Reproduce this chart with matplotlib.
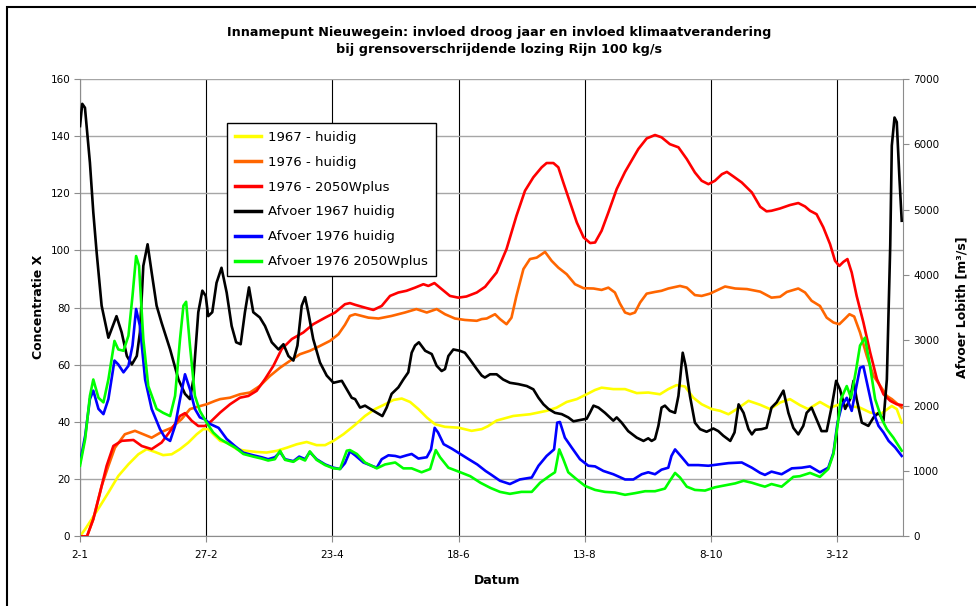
import matplotlib
matplotlib.use("Agg")
import matplotlib.pyplot as plt
from matplotlib.patches import Rectangle

plt.rcParams['font.family'] = ['DejaVu Sans']

# dagen vanaf 2 januari, x-as labels om de 56 dagen
tick_days = [0, 56, 112, 168, 224, 280, 336]
tick_labels = ['2-1', '27-2', '23-4', '18-6', '13-8', '8-10', '3-12']

# concentratie X (linker as)
geel_d = [0, 2.3, 5.2, 8.9, 12.6, 17.0, 21.5, 25.9, 29.6, 33.3, 36.9, 40.7, 44.4, 48.1, 51.8, 54.7,
          56.9, 59.9, 62.2, 65.1, 69.5, 73.9, 78.4, 82.8, 87.3, 91.8, 96.2, 100.6, 105.0, 108.8,
          112.5, 116.9, 122.1, 126.5, 130.9, 135.4, 139.1, 142.8, 146.5, 150.2, 154.0, 157.6,
          162.0, 168.0, 173.8, 178.3, 181.0, 184.9, 192.3, 199.7, 207.1, 211.5, 216.0, 220.5,
          224.9, 228.6, 231.5, 236.7, 241.9, 247.1, 252.2, 257.4, 261.1, 264.8, 268.5, 272.2,
          275.9, 280.4, 284.1, 287.8, 291.5, 296.7, 301.9, 306.3, 310.7, 315.1, 319.5, 323.2,
          328.4, 332.9, 337.3, 341.8, 346.2, 350.7, 355.2, 360.3, 362.5, 364.7]
geel_v = [0, 2.5, 6, 10.6, 15.3, 21.1, 25.2, 28.7, 30.5, 29.5, 28.4, 28.7, 30.5, 32.8, 35.7, 37.5,
          37.5, 35.1, 33.4, 32.8, 30.5, 29.9, 29.5, 29.3, 29.9, 31, 32.2, 33, 31.9, 31.9,
          33.4, 35.7, 39, 42.1, 44.5, 46.2, 47.7, 48.2, 47, 44.5, 41.5, 39.2,
          38.3, 38, 36.9, 37.5, 38.5, 40.5, 42.1, 42.7, 43.9, 45, 47, 48,
          49.7, 51.2, 52, 51.5, 51.5, 50.1, 50.3, 49.7, 51.5, 52.9, 52.4, 48.5,
          46.2, 44.5, 43.9, 42.7, 44.5, 47.4, 46, 44.5, 46.8, 48, 45.9, 44.5,
          47, 45, 46.2, 45.6, 45, 43.3, 42.7, 45.6, 44.5, 39.8]

oranje_d = [0, 3.1, 5.9, 9.6, 12.6, 15.5, 19.9, 24.4, 28.1, 31.8, 36.2, 40.7, 45.1, 48.8, 52.5, 56.2,
            60.0, 62.2, 66.6, 71.0, 75.4, 79.8, 84.3, 88.8, 93.2, 97.6, 102.0, 106.5, 111.0, 114.7,
            117.6, 119.8, 122.1, 128.0, 132.5, 138.3, 144.2, 149.3, 153.9, 158.3, 162.0, 166.4,
            170.8, 176.1, 178.3, 180.5, 184.2, 186.4, 189.3, 191.5, 193.7, 196.8, 199.7, 202.7,
            206.4, 209.3, 212.3, 216.0, 219.7, 223.5, 227.9, 231.5, 234.5, 237.4, 239.6, 241.9,
            244.1, 246.3, 248.6, 251.5, 255.2, 258.1, 261.1, 266.3, 269.3, 272.9, 275.9, 279.6,
            286.3, 290.8, 296.0, 301.9, 306.9, 310.7, 313.7, 318.8, 321.8, 324.7, 328.4, 331.4,
            334.4, 337.0, 339.6, 341.5, 343.6, 346.2, 349.2, 352.2, 355.2, 358.1, 360.3, 363.3,
            364.7]
oranje_v = [0, 0, 6, 17.6, 24.6, 31, 35.7, 36.9, 35.7, 34.5, 36.5, 38, 41, 44.5, 45.4, 46.2,
            47.4, 48, 48.5, 49.7, 50.3, 52.6, 56.1, 59, 61.4, 63.7, 64.9, 66.6, 68.4, 70.7,
            74, 77.1, 77.7, 76.5, 76.2, 77.1, 78.3, 79.5, 78.3, 79.5, 77.7, 76.2,
            75.7, 75.4, 76, 76.2, 77.7, 76, 74.2, 76.5, 84.1, 93.5, 97, 97.5,
            99.5, 96.4, 94, 91.7, 88.2, 86.8, 86.7, 86.2, 87, 85.3, 81.5, 78.3,
            77.7, 78.3, 81.8, 84.9, 85.5, 85.9, 86.7, 87.6, 87, 84.4, 84.1, 84.9,
            87.4, 86.7, 86.5, 85.6, 83.5, 83.8, 85.5, 86.7, 85.3, 82.4, 80.6, 76.5,
            74.8, 74.2, 76.2, 77.7, 76.9, 71.3, 63.1, 56.1, 52.6, 49.1, 48, 46,
            45]

rood_d = [0, 3.1, 5.9, 8.9, 11.8, 14.8, 18.5, 23.7, 27.4, 31.8, 36.2, 40.7, 44.4, 46.6, 49.6, 52.5,
          55.5, 58.4, 62.2, 66.6, 71.0, 74.7, 78.4, 82.1, 85.8, 89.5, 94.0, 99.1, 103.5, 108.8,
          113.2, 117.6, 119.8, 122.1, 126.5, 130.2, 133.9, 137.6, 141.3, 144.9, 148.7, 152.4,
          154.6, 157.3, 160.5, 164.2, 167.9, 171.5, 176.1, 179.8, 184.9, 189.3, 193.7, 197.5,
          201.2, 204.9, 207.1, 210.1, 212.3, 214.5, 217.5, 220.5, 223.5, 226.4, 228.6, 231.5,
          234.5, 238.2, 241.9, 247.8, 251.5, 255.2, 258.1, 261.8, 265.6, 269.3, 272.9, 275.9,
          278.9, 281.8, 284.9, 287.1, 290.0, 293.7, 298.2, 301.9, 304.7, 306.9, 310.7, 315.1,
          318.8, 321.8, 324.0, 326.9, 329.9, 332.9, 335.1, 337.0, 338.8, 340.6, 342.5, 344.7,
          347.7, 350.7, 353.7, 356.6, 359.6, 362.5, 364.7]
rood_v = [0, 0, 6, 15.3, 24.6, 31.6, 33.4, 33.7, 31.6, 30.5, 32.8, 37.5, 42.1, 43.1, 40.4, 38.6,
          38.6, 40.4, 43.3, 46.2, 48.5, 49.1, 50.9, 55, 59.6, 65.5, 69, 71.3, 74.2, 76.5,
          78.3, 81.2, 81.6, 81, 80, 79.2, 80.6, 84.1, 85.3, 85.9, 87, 88.2,
          87.6, 88.6, 86.5, 84.1, 83.5, 83.9, 85.3, 87.3, 92.3, 100.5, 112.1, 120.9,
          125.6, 129.1, 130.6, 130.6, 129.1, 123.8, 116.8, 109.8, 104.6, 102.6, 102.8, 106.9,
          113.3, 121.5, 127.5, 135.5, 139.2, 140.4, 139.6, 137.2, 136.1, 132, 127.3, 124.4,
          123.2, 124.4, 126.7, 127.5, 125.9, 123.8, 120.3, 115.3, 113.7, 113.9, 114.7, 115.9,
          116.6, 115.4, 113.9, 112.7, 108.1, 102.2, 96.4, 94.6, 96, 97, 92.3, 84.1,
          74.8, 64.3, 55, 49.7, 47.4, 46.2, 45.9]

# afvoer Lobith in m3/s (rechter as)
zwart_d = [0, 1.0, 2.2, 4.4, 5.9, 7.4, 9.6, 12.6, 16.2, 18.5, 20.8, 23.0, 25.2, 26.6, 28.1, 30.0,
           31.8, 34.0, 36.2, 40.0, 43.7, 46.6, 48.8, 50.3, 52.5, 54.3, 55.8, 56.9, 58.7, 60.6,
           62.8, 65.1, 67.3, 69.3, 71.3, 73.2, 75.0, 76.9, 79.8, 82.1, 85.1, 88.1, 90.3, 92.5,
           94.7, 96.5, 98.4, 99.9, 101.3, 103.5, 106.5, 109.5, 112.5, 116.2, 118.4, 120.6,
           122.1, 124.3, 126.5, 128.8, 131.7, 134.2, 136.1, 138.3, 141.3, 143.5, 145.7, 147.2,
           148.7, 150.4, 153.2, 156.1, 158.3, 160.5, 162.0, 163.5, 165.7, 168.6, 170.8, 173.0,
           176.1, 178.3, 179.7, 182.0, 184.9, 187.8, 190.8, 194.5, 198.3, 201.2, 203.5, 205.7,
           207.9, 210.8, 213.8, 216.7, 219.0, 221.9, 224.9, 226.3, 227.9, 230.1, 233.0, 235.2,
           236.7, 238.2, 240.4, 243.3, 247.1, 250.1, 252.2, 253.7, 255.2, 256.7, 258.1, 259.6,
           261.8, 264.1, 265.6, 267.5, 268.8, 270.7, 272.9, 275.2, 278.1, 281.1, 283.3, 285.5,
           288.6, 290.5, 292.3, 294.5, 296.7, 298.2, 299.7, 302.5, 304.7, 306.9, 309.2, 312.2,
           314.4, 316.6, 318.8, 321.0, 322.5, 324.7, 326.9, 329.1, 331.4, 333.7, 335.6, 337.3,
           339.6, 341.8, 343.3, 344.7, 347.0, 349.9, 352.2, 354.4, 356.6, 358.1, 359.6, 360.3,
           361.5, 362.5, 363.7, 364.7]
zwart_v = [6280, 6620, 6560, 5720, 4960, 4340, 3530, 3040, 3370, 3120, 2760, 2630, 2760, 3120, 4140, 4470,
           4040, 3530, 3270, 2860, 2400, 2180, 2100, 2400, 3430, 3760, 3680, 3370, 3430, 3880,
           4110, 3730, 3220, 2970, 2940, 3430, 3810, 3430, 3350, 3220, 2970, 2860, 2940, 2760,
           2690, 2920, 3530, 3660, 3430, 3020, 2660, 2460, 2350, 2380, 2250, 2120,
           2100, 1970, 2000, 1950, 1890, 1840, 1970, 2180, 2280, 2400, 2510, 2810,
           2920, 2970, 2840, 2790, 2610, 2530, 2560, 2760, 2860, 2840, 2810, 2710,
           2560, 2460, 2430, 2480, 2480, 2400, 2350, 2330, 2300, 2250, 2120, 2020,
           1950, 1890, 1870, 1820, 1760, 1780, 1800, 1890, 2000, 1970, 1890, 1820,
           1770, 1820, 1740, 1610, 1510, 1460, 1500, 1460, 1490, 1690, 1970, 2000,
           1920, 1890, 2150, 2810, 2610, 2150, 1740, 1640, 1600, 1650, 1610, 1540,
           1460, 1590, 2020, 1890, 1640, 1560, 1630, 1640, 1660, 1970, 2050, 2230,
           1890, 1660, 1560, 1690, 1890, 1970, 1790, 1610, 1610, 2000, 2380, 2250,
           1950, 2100, 2380, 2100, 1740, 1690, 1820, 1890, 1770, 2400, 4450, 5980,
           6410, 6340, 5470, 4830]

blauw_d = [0, 2.3, 4.4, 5.9, 8.2, 10.4, 12.6, 15.3, 17.0, 19.3, 21.5, 23.3, 24.9, 26.6, 28.9, 31.8,
           35.5, 37.7, 40.0, 42.2, 44.4, 46.6, 48.8, 51.0, 53.2, 55.5, 57.7, 61.5, 65.1, 68.8,
           72.5, 76.9, 80.6, 83.5, 86.5, 88.8, 91.0, 94.7, 97.3, 99.9, 102.0, 105.0, 108.8,
           112.5, 115.4, 117.6, 119.8, 122.1, 125.8, 129.4, 131.7, 133.9, 136.9, 139.9, 142.1,
           145.0, 147.2, 150.2, 153.9, 155.8, 157.4, 158.9, 161.4, 165.1, 168.8, 172.5, 176.3,
           180.0, 182.2, 186.4, 190.8, 195.2, 200.5, 203.5, 207.1, 210.4, 211.8, 213.0, 215.2,
           218.2, 221.9, 225.6, 228.6, 232.3, 236.7, 241.9, 245.6, 249.3, 252.2, 255.2, 258.1,
           261.1, 262.5, 264.1, 267.1, 270.0, 274.4, 278.9, 283.3, 287.8, 293.7, 298.2, 301.9,
           304.0, 306.9, 311.4, 315.9, 320.3, 324.0, 328.4, 332.1, 334.4, 336.2, 338.1, 340.3,
           342.5, 344.5, 346.2, 347.7, 349.9, 352.2, 354.4, 356.6, 358.9, 361.8, 364.7]
blauw_v = [1130, 1540, 2100, 2230, 1950, 1870, 2100, 2690, 2630, 2510, 2610, 2920, 3480, 3220, 2400, 1950,
           1640, 1510, 1460, 1690, 2100, 2480, 2250, 1950, 1820, 1790, 1720, 1660, 1490, 1380,
           1280, 1240, 1210, 1180, 1210, 1290, 1180, 1150, 1220, 1180, 1290, 1180, 1100,
           1050, 1030, 1120, 1300, 1240, 1130, 1080, 1050, 1180, 1240, 1230, 1210,
           1240, 1260, 1190, 1210, 1330, 1660, 1590, 1410, 1340, 1260, 1180, 1100,
           1000, 950, 850, 800, 870, 900, 1080, 1230, 1330, 1740, 1750, 1510,
           1360, 1180, 1080, 1070, 1000, 950, 870, 870, 950, 980, 950, 1020,
           1050, 1230, 1330, 1210, 1090, 1090, 1080, 1100, 1120, 1130, 1050, 970,
           940, 990, 950, 1040, 1050, 1070, 980, 1050, 1280, 1740, 2000, 2120,
           1920, 2280, 2580, 2600, 2250, 1890, 1690, 1590, 1460, 1360, 1230]

groen_d = [0, 2.3, 4.4, 5.9, 8.2, 10.4, 12.6, 15.3, 17.0, 19.3, 21.5, 23.3, 24.9, 26.2, 28.1, 30.3,
           34.0, 36.9, 40.0, 42.2, 44.4, 45.9, 47.1, 48.8, 51.0, 53.2, 56.2, 59.1, 62.2, 65.1,
           68.8, 72.5, 76.9, 80.6, 83.5, 86.5, 88.8, 91.0, 94.7, 97.3, 99.9, 102.0, 105.0,
           108.8, 112.5, 115.4, 118.4, 119.8, 122.9, 126.5, 131.7, 135.4, 139.9, 143.5, 147.2,
           151.6, 155.4, 157.9, 159.8, 163.5, 168.8, 173.2, 177.7, 182.2, 186.4, 190.8, 195.9,
           200.5, 204.2, 208.6, 210.8, 212.7, 214.5, 216.7, 220.5, 224.2, 228.6, 233.0, 237.4,
           241.9, 246.3, 250.8, 255.2, 259.6, 261.8, 264.1, 266.3, 269.3, 272.9, 277.4, 281.8,
           286.3, 290.8, 294.5, 298.2, 301.9, 304.0, 306.9, 311.4, 316.6, 319.5, 324.0, 328.4,
           332.1, 334.4, 336.2, 337.7, 340.3, 342.2, 344.5, 346.2, 348.4, 350.6, 352.9, 355.9,
           358.1, 361.0, 364.7]
groen_v = [1080, 1490, 2150, 2400, 2120, 2050, 2400, 2990, 2860, 2840, 3070, 3680, 4290, 4140, 3020, 2300,
           1950, 1890, 1840, 2150, 3020, 3530, 3590, 2920, 2150, 1920, 1740, 1590, 1490, 1430,
           1360, 1260, 1220, 1190, 1160, 1180, 1310, 1170, 1140, 1200, 1160, 1300, 1170,
           1090, 1040, 1030, 1310, 1320, 1260, 1130, 1040, 1100, 1130, 1040, 1040,
           980, 1030, 1320, 1210, 1050, 980, 920, 820, 740, 680, 650, 680,
           680, 820, 930, 980, 1330, 1180, 980, 870, 770, 710, 680, 670,
           635, 660, 690, 690, 730, 850, 970, 900, 760, 710, 700, 750,
           780, 810, 850, 820, 780, 760, 800, 760, 910, 920, 970, 910,
           1030, 1260, 1690, 2100, 2300, 2120, 2560, 2920, 3040, 2610, 2100, 1790,
           1640, 1510, 1310]

fig = plt.figure(figsize=(9.76, 6.06), dpi=100)
ax = fig.add_axes([80 / 976, 1 - 536.3 / 606, (903.3 - 80) / 976, (536.3 - 79) / 606])
ax2 = ax.twinx()

l1, = ax.plot(geel_d, geel_v, color='#ffff00', lw=1.9, label='1967 - huidig')
l2, = ax.plot(oranje_d, oranje_v, color='#ff6600', lw=1.9, label='1976 - huidig')
l3, = ax.plot(rood_d, rood_v, color='#ff0000', lw=1.9, label='1976 - 2050Wplus')
l4, = ax2.plot(zwart_d, zwart_v, color='black', lw=1.9, label='Afvoer 1967 huidig')
l5, = ax2.plot(blauw_d, blauw_v, color='#0000ff', lw=1.9, label='Afvoer 1976 huidig')
l6, = ax2.plot(groen_d, groen_v, color='#00ff00', lw=1.9, label='Afvoer 1976 2050Wplus')

ax.set_xlim(0, 365.4)
ax.set_ylim(0, 160)
ax2.set_ylim(0, 7000)
ax.set_yticks(range(0, 161, 20))
ax2.set_yticks(range(0, 7001, 1000))
ax.set_xticks(tick_days)
ax.set_xticklabels(tick_labels)

ax.set_axisbelow(True)
ax.grid(axis='y', color='#a6a6a6', lw=1.0)
ax.grid(axis='x', color='black', lw=0.8)

for a in (ax, ax2):
    a.spines['top'].set_visible(False)
    for s in ('left', 'right', 'bottom'):
        a.spines[s].set_color('#8c8c8c')
ax.spines['right'].set_visible(False)
ax2.spines['left'].set_visible(False)
ax2.spines['bottom'].set_visible(False)

ax.tick_params(axis='y', direction='out', length=4, color='#8c8c8c', labelsize=7.5, pad=3)
ax.tick_params(axis='x', direction='out', length=4, color='#8c8c8c', labelsize=7.5, pad=6)
ax2.tick_params(axis='y', direction='out', length=4, color='#8c8c8c', labelsize=7.5, pad=3)

leg = ax2.legend(handles=[l1, l2, l3, l4, l5, l6], loc='upper left',
                 bbox_to_anchor=(0.1786, 0.904), borderaxespad=0, fancybox=False,
                 framealpha=1, edgecolor='black', fontsize=9.5, handlelength=2.0,
                 labelspacing=0.9, borderpad=0.6, handletextpad=0.5)
leg.get_frame().set_linewidth(1.0)
for h in leg.get_lines():
    h.set_linewidth(2.5)

fig.text(0.511, 1 - 41 / 606,
         'Innamepunt Nieuwegein: invloed droog jaar en invloed klimaatverandering\n'
         'bij grensoverschrijdende lozing Rijn 100 kg/s',
         ha='center', va='center', fontsize=9.2, fontweight='bold', linespacing=1.45)
fig.text(38 / 976, 1 - 307 / 606, 'Concentratie X', rotation=90, ha='center', va='center',
         fontsize=9, fontweight='bold')
fig.text(962 / 976, 1 - 307 / 606, 'Afvoer Lobith [m³/s]', rotation=90, ha='center', va='center',
         fontsize=9, fontweight='bold')
fig.text(497 / 976, 1 - 580 / 606, 'Datum', ha='center', va='center', fontsize=9, fontweight='bold')

# kader om de hele grafiek
fig.add_artist(Rectangle((7 / 976, -0.2), 1.2, 0.2 + 1 - 7 / 606, transform=fig.transFigure,
                         fill=False, edgecolor='black', lw=1.5, clip_on=False))

fig.savefig('out.png', dpi=100)
